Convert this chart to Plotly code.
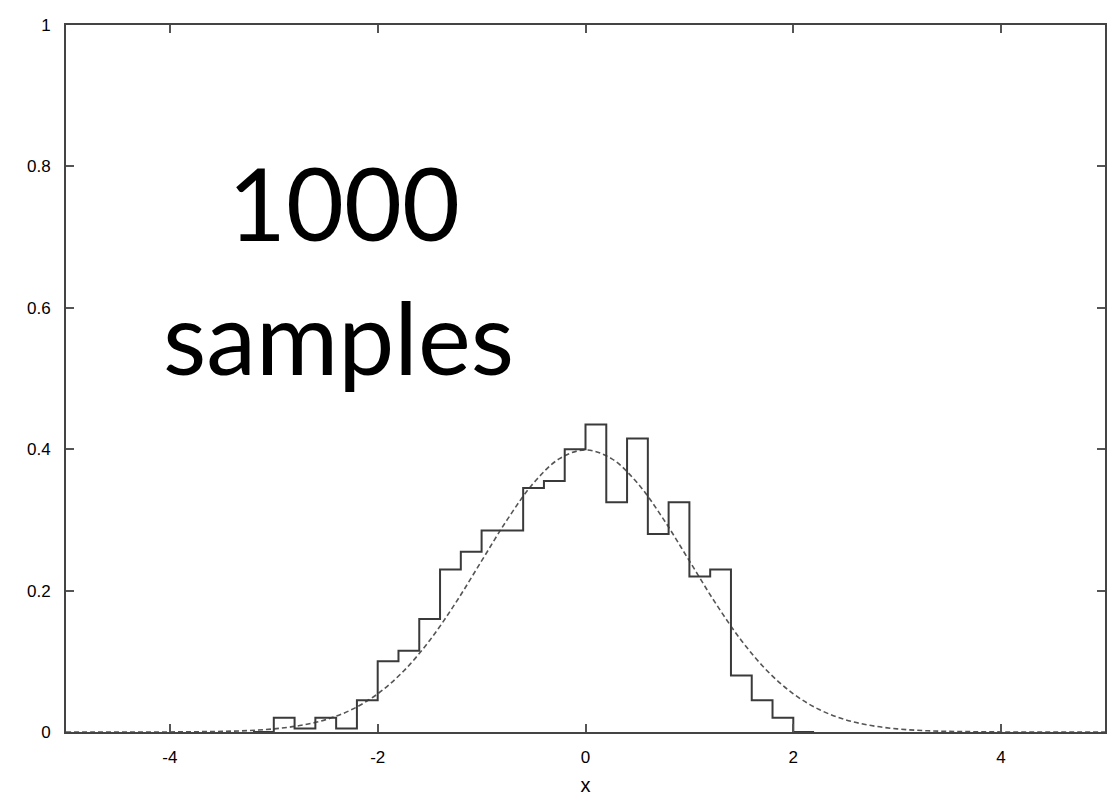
import plotly.graph_objects as go

# Histogram (density), bin width 0.2, from -3.0 to 2.0
bin_left_edges = [-3.0, -2.8, -2.6, -2.4, -2.2, -2.0, -1.8, -1.6, -1.4, -1.2,
                  -1.0, -0.8, -0.6, -0.4, -0.2, 0.0, 0.2, 0.4, 0.6, 0.8,
                  1.0, 1.2, 1.4, 1.6, 1.8]
bin_density = [0.020, 0.005, 0.020, 0.005, 0.045, 0.100, 0.115, 0.160, 0.230, 0.255,
               0.285, 0.285, 0.345, 0.355, 0.400, 0.435, 0.325, 0.415, 0.280, 0.325,
               0.220, 0.230, 0.080, 0.045, 0.020]
bin_width = 0.2

# Reference density curve
curve_x = [-5.0, -4.75, -4.5, -4.25, -4.0, -3.75, -3.5, -3.25, -3.0, -2.75, -2.5, -2.25,
           -2.0, -1.75, -1.5, -1.25, -1.0, -0.75, -0.5, -0.25, 0.0, 0.25, 0.5, 0.75,
           1.0, 1.25, 1.5, 1.75, 2.0, 2.25, 2.5, 2.75, 3.0, 3.25, 3.5, 3.75, 4.0,
           4.25, 4.5, 4.75, 5.0]
curve_y = [0.0, 0.0, 0.0, 0.0, 0.0001, 0.0004, 0.0009, 0.0020, 0.0044, 0.0091, 0.0175, 0.0317,
           0.0540, 0.0863, 0.1295, 0.1826, 0.2420, 0.3011, 0.3521, 0.3867, 0.3989, 0.3867, 0.3521, 0.3011,
           0.2420, 0.1826, 0.1295, 0.0863, 0.0540, 0.0317, 0.0175, 0.0091, 0.0044, 0.0020, 0.0009, 0.0004, 0.0001,
           0.0, 0.0, 0.0, 0.0]

x_tick_vals = [-4, -2, 0, 2, 4]
x_tick_text = ["-4", "-2", "0", "2", "4"]
y_tick_vals = [0, 0.2, 0.4, 0.6, 0.8, 1.0]
y_tick_text = ["0", "0.2", "0.4", "0.6", "0.8", "1"]

# Build step outline from bins
step_x = [bin_left_edges[0] - bin_width]
step_y = [0.0]
for e, d in zip(bin_left_edges, bin_density):
    step_x.append(e)
    step_y.append(d)
step_x.append(bin_left_edges[-1] + bin_width)
step_y.append(0.0)
step_x.append(bin_left_edges[-1] + 2 * bin_width)
step_y.append(0.0)

fig = go.Figure()
fig.add_trace(go.Scatter(x=curve_x, y=curve_y, mode="lines",
                         line=dict(color="#555555", width=1.6, dash="5px,3px", shape="spline"),
                         hoverinfo="skip", showlegend=False))
fig.add_trace(go.Scatter(x=step_x, y=step_y, mode="lines",
                         line=dict(color="#3a3a3a", width=2, shape="hv"),
                         showlegend=False))

fig.add_annotation(text="1000", x=-2.32, y=0.75, xref="x", yref="y",
                   showarrow=False, font=dict(family="Lato", size=100, color="black"))
fig.add_annotation(text="samples", x=-2.38, y=0.56, xref="x", yref="y",
                   showarrow=False, font=dict(family="Lato", size=100, color="black"))

axis_common = dict(showline=True, linecolor="#444444", linewidth=2, mirror="ticks",
                   ticks="inside", ticklen=8, tickcolor="#555555", tickwidth=1.5,
                   showgrid=False, zeroline=False,
                   tickfont=dict(family="Liberation Sans", size=17, color="black"))

fig.update_xaxes(range=[-5, 5], tickmode="array", tickvals=x_tick_vals, ticktext=x_tick_text,
                 ticklabelstandoff=9,
                 title=dict(text="x", font=dict(family="Liberation Sans", size=20, color="black"),
                            standoff=12),
                 **axis_common)
fig.update_yaxes(range=[0, 1], tickmode="array", tickvals=y_tick_vals, ticktext=y_tick_text,
                 ticklabelstandoff=10,
                 **axis_common)

fig.update_layout(width=1108, height=794, autosize=False,
                  margin=dict(l=58, r=11, t=8, b=70),
                  plot_bgcolor="white", paper_bgcolor="white")

fig.write_html("out.html")
